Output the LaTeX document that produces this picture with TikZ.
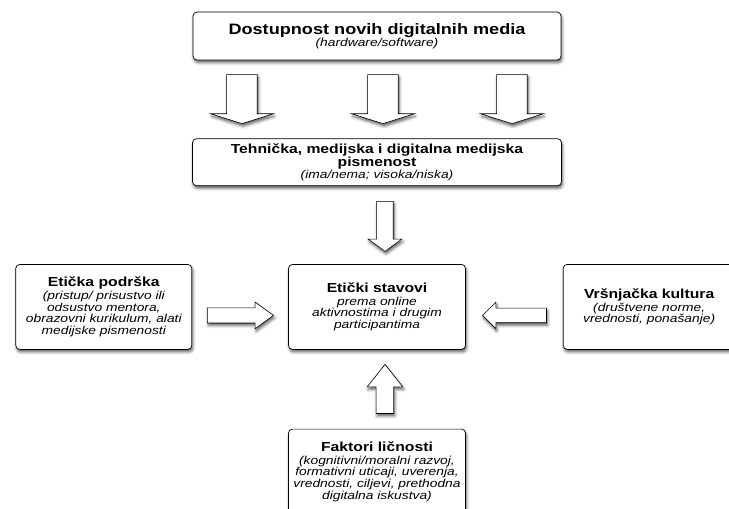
\documentclass[tikz,border=0pt]{standalone}
\usepackage{fontspec}
\setmainfont[FakeStretch=1.2]{Liberation Sans}
\usetikzlibrary{positioning,calc,shapes.arrows,shadows.blur}

\newcommand{\headtitle}{\fontsize{15.1}{15}\selectfont\upshape\bfseries}
\newcommand{\boxtitle}{\fontsize{13.1}{11.8}\selectfont\upshape\bfseries}
\newcommand{\boxsub}{\fontsize{11.5}{11.7}\selectfont\mdseries\itshape}

\begin{document}
\begin{tikzpicture}[
  font=\boxsub,
  softshadow/.style={blur shadow={shadow xshift=1pt, shadow yshift=-2.5pt, shadow blur radius=3pt, shadow opacity=65}},
  box/.style={draw, fill=white, rounded corners=4pt, align=center, inner sep=2pt, line width=0.7pt, softshadow},
  blockarrow/.style={single arrow, draw, fill=white, line width=0.6pt, minimum width=0pt, anchor=tail, softshadow},
  node distance=78pt and 96pt
]
\useasboundingbox (-377pt,36pt) rectangle (352pt,-473pt);

% Core nodes
\node[box, minimum width=368pt, minimum height=48pt] (media)
  {\headtitle Dostupnost novih digitalnih media\\[0.5pt]\boxsub (hardware/software)};

\node[box, below=of media, minimum width=369pt, minimum height=47pt] (literacy)
  {\boxtitle Tehnička, medijska i digitalna medijska\\\boxtitle pismenost\\\boxsub (ima/nema; visoka/niska)};

\node[box, below=of literacy, minimum width=177pt, minimum height=85pt] (centre)
  {\boxtitle Etički stavovi\\[1pt]\boxsub prema online\\aktivnostima i drugim\\participantima};

\node[box, left=of centre, minimum width=176pt, minimum height=85pt] (support)
  {\boxtitle Etička podrška\\[1pt]\boxsub (pristup/ prisustvo ili\\odsustvo mentora,\\obrazovni kurikulum, alati\\medijske pismenosti};

\node[box, right=97pt of centre, minimum width=172pt, minimum height=85pt] (peers)
  {\boxtitle Vršnjačka kultura\\[1pt]\boxsub (društvene norme,\\vrednosti, ponašanje)};

\node[box, below=79pt of centre, minimum width=177pt, minimum height=85pt] (traits)
  {\boxtitle Faktori ličnosti\\[1pt]\boxsub (kognitivni/moralni razvoj,\\formativni uticaji, uverenja,\\vrednosti, ciljevi, prethodna\\digitalna iskustva)};

% Block arrows (downward)
\node[blockarrow, shape border rotate=270, minimum height=49pt, inner sep=15pt,
  single arrow head extend=16pt, single arrow tip angle=145]
  (downA) at ($(media.south)+(-135pt,-14pt)$) {};
\node[blockarrow, shape border rotate=270, minimum height=49pt, inner sep=15pt,
  single arrow head extend=16pt, single arrow tip angle=145]
  (downB) at ($(media.south)+(6pt,-14pt)$) {};
\node[blockarrow, shape border rotate=270, minimum height=49pt, inner sep=15pt,
  single arrow head extend=16pt, single arrow tip angle=145]
  (downC) at ($(media.south)+(135pt,-14pt)$) {};

\node[blockarrow, shape border rotate=270, minimum height=50pt, inner sep=8pt,
  single arrow head extend=8.5pt, single arrow tip angle=108]
  (downMid) at ($(literacy.south)+(8pt,-15pt)$) {};

% Block arrows (into the centre)
\node[blockarrow, minimum height=66pt, inner sep=7.25pt,
  single arrow head extend=5.75pt, single arrow tip angle=72]
  (fromSupport) at ($(support.east)+(15pt,-8.5pt)$) {};
\node[blockarrow, shape border rotate=180, minimum height=64pt, inner sep=7pt,
  single arrow head extend=6pt, single arrow tip angle=90]
  (fromPeers) at ($(peers.west)+(-16pt,-8.5pt)$) {};
\node[blockarrow, shape border rotate=90, minimum height=49pt, inner sep=8.5pt,
  single arrow head extend=9pt, single arrow tip angle=77]
  (fromTraits) at ($(traits.north)+(8pt,15pt)$) {};

\end{tikzpicture}
\end{document}
